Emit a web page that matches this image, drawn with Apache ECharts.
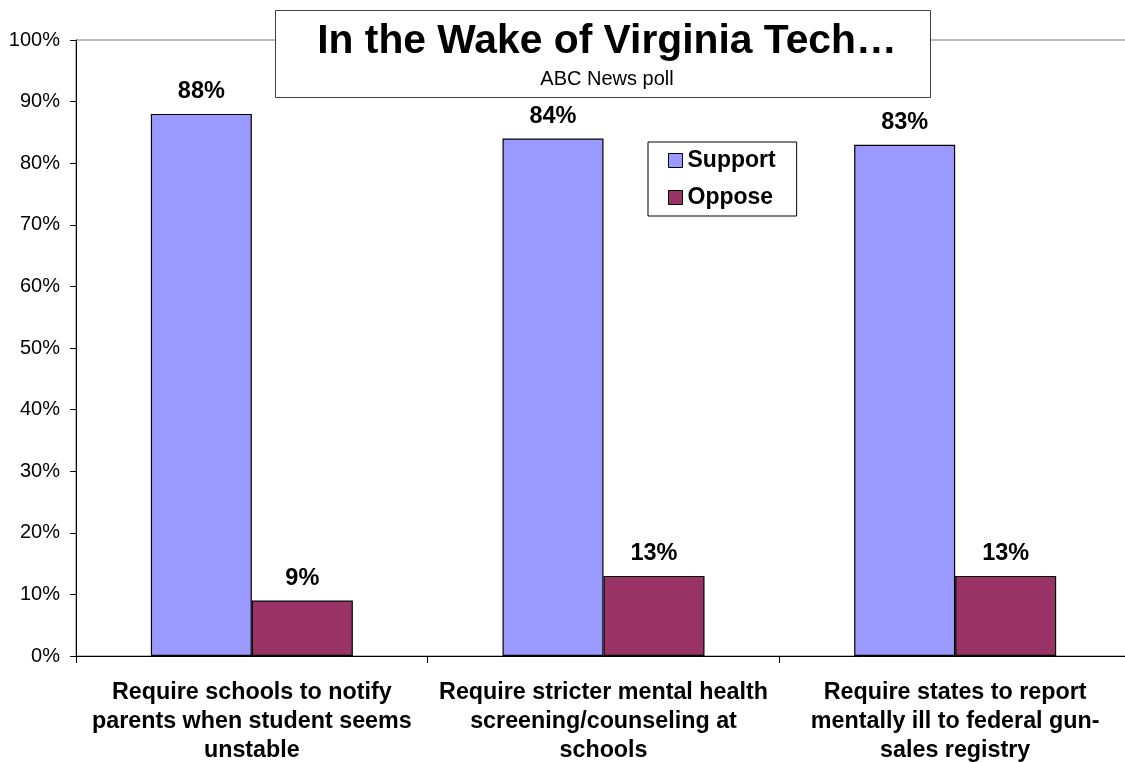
<!DOCTYPE html>
<html>
<head>
<meta charset="utf-8">
<script src="https://cdn.jsdelivr.net/npm/echarts@6/dist/echarts.min.js"></script>
<style>
html, body { margin: 0; padding: 0; background: #fff; }
#chart { width: 1125px; height: 762px; }
</style>
</head>
<body>
<div id="chart"></div>
<script>
// data
var categories = [
    'Require schools to notify\nparents when student seems\nunstable',
    'Require stricter mental health\nscreening/counseling at\nschools',
    'Require states to report\nmentally ill to federal gun-\nsales registry'
];
var supportValues = [88, 84, 83];
var opposeValues = [9, 13, 13];
var seriesNames = ['Support', 'Oppose'];

var FONT = '"Liberation Sans", Arial, sans-serif';

var chart = echarts.init(document.getElementById('chart'));

function barSeries(name, data, color) {
    return {
        type: 'bar',
        name: name,
        data: data,
        barWidth: 101,
        barGap: '0%',
        itemStyle: { color: color, borderColor: '#000', borderWidth: 1.2 },
        label: {
            show: true,
            position: 'top',
            distance: 10,
            formatter: '{c}%',
            color: '#000',
            fontFamily: FONT,
            fontWeight: 'bold',
            fontSize: 23.5
        }
    };
}

chart.setOption({
    animation: false,
    backgroundColor: '#fff',
    title: {
        text: 'In the Wake of Virginia Tech\u2026',
        subtext: 'ABC News poll',
        left: 602,
        top: 16,
        textAlign: 'center',
        itemGap: 7,
        textStyle: { fontFamily: FONT, fontWeight: 'bold', fontSize: 40.8, color: '#000' },
        subtextStyle: { fontFamily: FONT, fontSize: 20, color: '#000' }
    },
    graphic: [{
        type: 'rect',
        z: 0,
        shape: { x: 275.5, y: 10.5, width: 655, height: 87 },
        style: { fill: '#fff', stroke: '#404040', lineWidth: 1 }
    }],
    legend: {
        data: seriesNames,
        orient: 'vertical',
        left: 648,
        top: 142,
        padding: [7, 21, 7, 20],
        itemGap: 14,
        itemWidth: 14,
        itemHeight: 14,
        icon: 'rect',
        backgroundColor: '#fff',
        borderColor: '#000',
        borderWidth: 1,
        borderRadius: 0,
        textStyle: { fontFamily: FONT, fontWeight: 'bold', fontSize: 23, color: '#000', padding: [0, 0, 0, 0] },
        itemStyle: { borderColor: '#000', borderWidth: 1 }
    },
    grid: {
        left: 76,
        top: 40,
        right: -6,
        bottom: 106,
        show: true,
        borderColor: '#777',
        borderWidth: 1,
        outerBoundsMode: 'none'
    },
    xAxis: {
        type: 'category',
        data: categories,
        axisLine: { lineStyle: { color: '#000', width: 1 } },
        axisTick: { show: true, length: 7, lineStyle: { color: '#000' } },
        axisLabel: {
            interval: 0,
            margin: 22,
            color: '#000',
            fontFamily: FONT,
            fontWeight: 'bold',
            fontSize: 23.3,
            lineHeight: 29
        }
    },
    yAxis: {
        type: 'value',
        min: 0,
        max: 100,
        interval: 10,
        splitLine: { show: false },
        axisLine: { show: true, lineStyle: { color: '#000', width: 1 } },
        axisTick: { show: true, length: 6, lineStyle: { color: '#000' } },
        axisLabel: {
            formatter: '{value}%',
            margin: 16,
            color: '#000',
            fontFamily: FONT,
            fontSize: 20
        }
    },
    series: [
        barSeries(seriesNames[0], supportValues, '#9999FF'),
        barSeries(seriesNames[1], opposeValues, '#993366')
    ]
});
</script>
</body>
</html>
